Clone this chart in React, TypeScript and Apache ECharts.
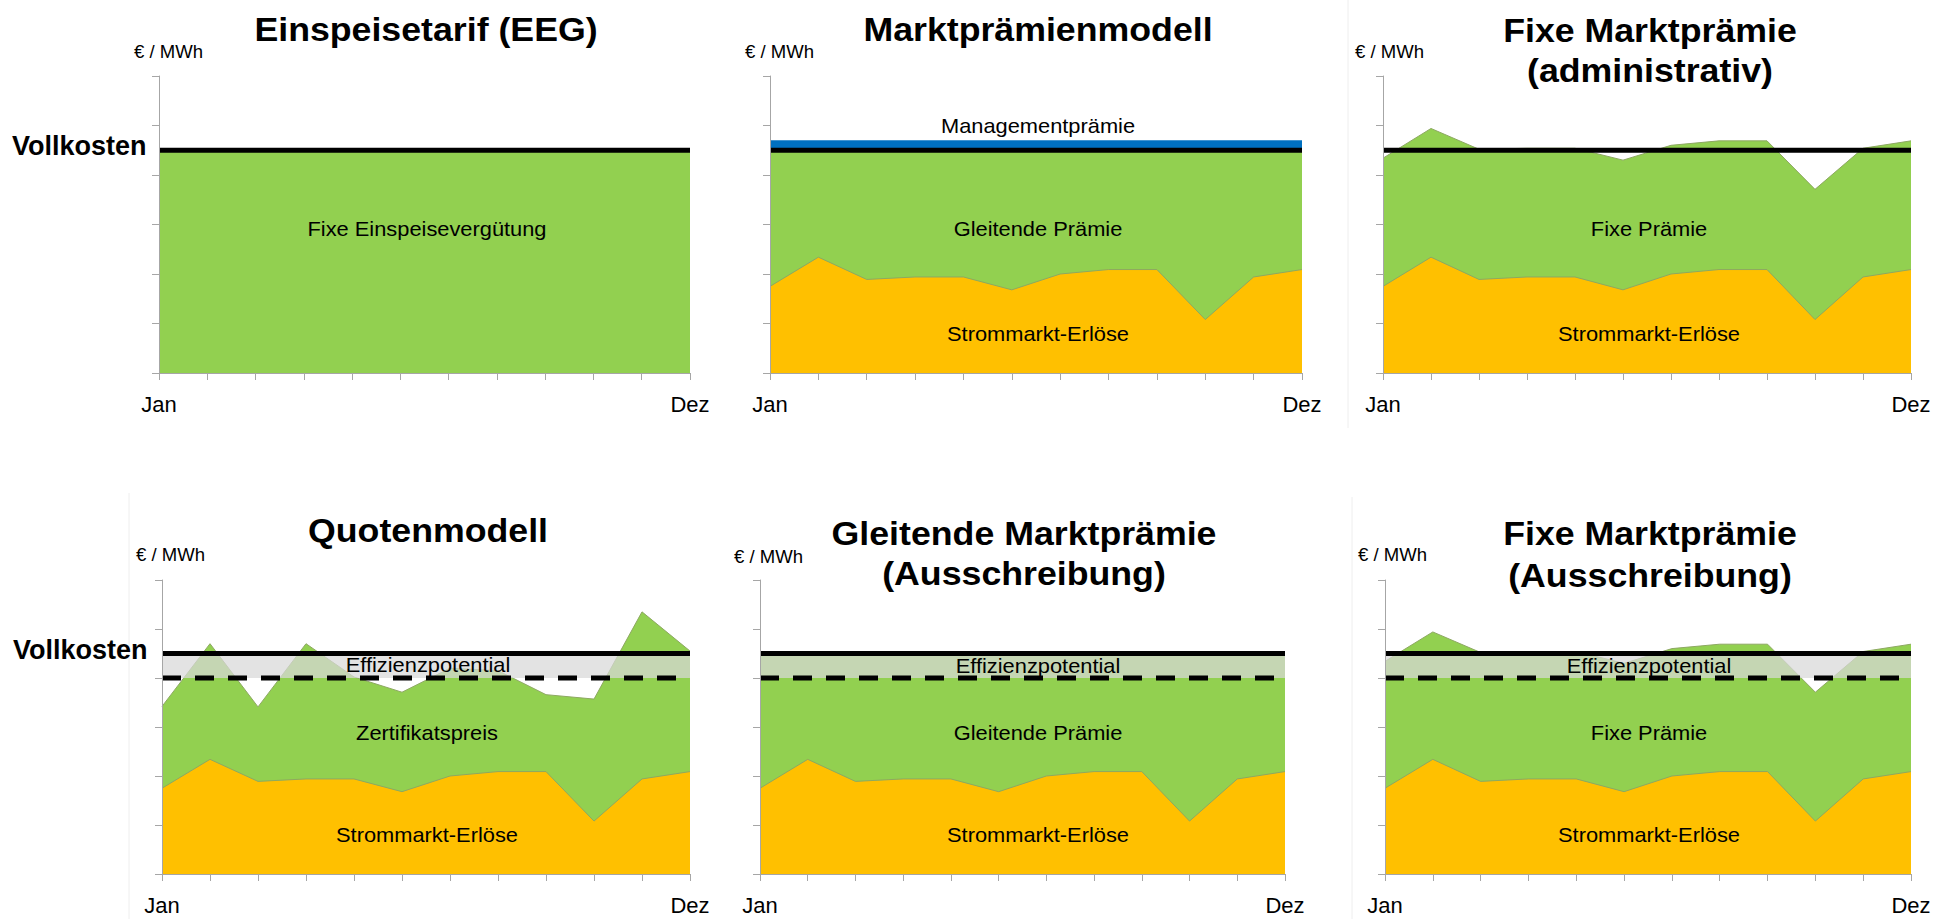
import React, { useEffect, useRef } from "react";
import * as echarts from "echarts";

const FONT = '"Liberation Sans", Arial, Helvetica, sans-serif';

// ---- data (units: arbitrary €/MWh scale 0..6) ----
const months = ["Jan", "Feb", "Mär", "Apr", "Mai", "Jun", "Jul", "Aug", "Sep", "Okt", "Nov", "Dez"];
const strommarktErloese = [1.75, 2.34, 1.89, 1.94, 1.94, 1.68, 2.0, 2.09, 2.09, 1.08, 1.94, 2.09];
const vollkosten = [4.5, 4.5, 4.5, 4.5, 4.5, 4.5, 4.5, 4.5, 4.5, 4.5, 4.5, 4.5];
const fixeEinspeiseverguetung = [4.5, 4.5, 4.5, 4.5, 4.5, 4.5, 4.5, 4.5, 4.5, 4.5, 4.5, 4.5];
const gleitendePraemieTop = [4.5, 4.5, 4.5, 4.5, 4.5, 4.5, 4.5, 4.5, 4.5, 4.5, 4.5, 4.5];
const managementPraemie = [0.2, 0.2, 0.2, 0.2, 0.2, 0.2, 0.2, 0.2, 0.2, 0.2, 0.2, 0.2];
const fixePraemieTop = [4.34, 4.94, 4.52, 4.54, 4.54, 4.3, 4.6, 4.69, 4.69, 3.71, 4.54, 4.69];
const zertifikatspreisTop = [3.42, 4.7, 3.41, 4.7, 4.02, 3.71, 4.2, 4.15, 3.66, 3.57, 5.35, 4.55];
const ausschreibungsNiveau = [4.0, 4.0, 4.0, 4.0, 4.0, 4.0, 4.0, 4.0, 4.0, 4.0, 4.0, 4.0];
const effizienzpotential = [0.5, 0.5, 0.5, 0.5, 0.5, 0.5, 0.5, 0.5, 0.5, 0.5, 0.5, 0.5];
const yTicks = { min: 0, max: 6, interval: 1 };

const GREEN = "#92D050";
const ORANGE = "#FFC000";
const BLUE = "#0070C0";
const BAND = "rgba(216,216,216,0.725)";
const AXIS = "#A6A6A6";

const grids = [
  { left: 159, top: 76, width: 531, height: 297 },
  { left: 770, top: 76, width: 532, height: 297 },
  { left: 1383, top: 76, width: 528, height: 297 },
  { left: 162, top: 580, width: 528, height: 294 },
  { left: 760, top: 580, width: 525, height: 294 },
  { left: 1385, top: 580, width: 526, height: 294 },
];

function area(g: number, data: number[], color: string, z: number, lineColor: string) {
  return {
    type: "line",
    xAxisIndex: g,
    yAxisIndex: g,
    data,
    symbol: "none",
    silent: true,
    z,
    lineStyle: { color: lineColor, width: 1 },
    areaStyle: { color, opacity: 1 },
  };
}

function line(g: number, data: number[], width: number, dash: any, z: number, stack?: string) {
  return {
    type: "line",
    xAxisIndex: g,
    yAxisIndex: g,
    data,
    symbol: "none",
    silent: true,
    z,
    stack,
    lineStyle: { color: "#000", width, type: dash, cap: "butt" },
  };
}

function stackedBand(g: number, data: number[], color: string, z: number, stack: string) {
  return {
    type: "line",
    xAxisIndex: g,
    yAxisIndex: g,
    data,
    stack,
    symbol: "none",
    silent: true,
    z,
    lineStyle: { width: 0, opacity: 0 },
    areaStyle: { color, opacity: 1 },
  };
}

function txt(text: string, x: number, y: number, size: number, opts: any = {}) {
  const align = opts.align || "center";
  return {
    type: "text",
    x,
    y,
    scaleX: opts.scaleX || 1,
    z: 100,
    silent: true,
    style: {
      text,
      fill: opts.color || "#000",
      font: `${opts.bold ? "bold " : ""}${size}px ${FONT}`,
      textAlign: align,
      align,
      textVerticalAlign: "middle",
      verticalAlign: "middle",
    },
  };
}

function vline(x: number, y1: number, y2: number) {
  return {
    type: "line",
    z: 0,
    silent: true,
    shape: { x1: x, y1, x2: x, y2 },
    style: { stroke: "#EEEEEE", lineWidth: 1 },
  };
}

export default function App() {
  const ref = useRef<HTMLDivElement>(null);

  useEffect(() => {
    document.body.style.margin = "0";
    if (!ref.current) return;
    const chart = echarts.init(ref.current, null, { renderer: "svg", width: 1950, height: 919 });

    const xAxis = grids.map((_, i) => ({
      gridIndex: i,
      type: "category",
      data: months,
      boundaryGap: false,
      axisLine: { show: true, lineStyle: { color: AXIS, width: 1 } },
      axisTick: { show: true, interval: 0, length: 7, lineStyle: { color: AXIS } },
      axisLabel: {
        interval: 0,
        margin: 20,
        fontSize: 22,
        color: "#000",
        fontFamily: FONT,
        formatter: (v: string, idx: number) => (idx === 0 || idx === months.length - 1 ? v : ""),
      },
      splitLine: { show: false },
      z: 10,
    }));

    const yAxis = grids.map((_, i) => ({
      gridIndex: i,
      type: "value",
      min: yTicks.min,
      max: yTicks.max,
      interval: yTicks.interval,
      axisLine: { show: true, lineStyle: { color: AXIS, width: 1 } },
      axisTick: { show: true, length: 7, lineStyle: { color: AXIS } },
      axisLabel: { show: false },
      splitLine: { show: false },
      z: 10,
    }));

    const edge = "#8DA862";
    const series: any[] = [
      // Panel 0: Einspeisetarif
      area(0, fixeEinspeiseverguetung, GREEN, 2, edge),
      line(0, vollkosten, 5, "solid", 6),
      // Panel 1: Marktprämienmodell
      area(1, gleitendePraemieTop, GREEN, 2, edge),
      area(1, strommarktErloese, ORANGE, 3, edge),
      line(1, vollkosten, 5, "solid", 6, "mgmt1"),
      stackedBand(1, managementPraemie, BLUE, 4, "mgmt1"),
      // Panel 2: Fixe Marktprämie (administrativ)
      area(2, fixePraemieTop, GREEN, 2, edge),
      area(2, strommarktErloese, ORANGE, 3, edge),
      line(2, vollkosten, 5, "solid", 6),
      // Panel 3: Quotenmodell
      area(3, zertifikatspreisTop, GREEN, 2, edge),
      area(3, strommarktErloese, ORANGE, 3, edge),
      line(3, ausschreibungsNiveau, 5, [19, 14], 6, "band3"),
      stackedBand(3, effizienzpotential, BAND, 4, "band3"),
      line(3, vollkosten, 5, "solid", 6),
      // Panel 4: Gleitende Marktprämie (Ausschreibung)
      area(4, gleitendePraemieTop, GREEN, 2, edge),
      area(4, strommarktErloese, ORANGE, 3, edge),
      line(4, ausschreibungsNiveau, 5, [19, 14], 6, "band4"),
      stackedBand(4, effizienzpotential, BAND, 4, "band4"),
      line(4, vollkosten, 5, "solid", 6),
      // Panel 5: Fixe Marktprämie (Ausschreibung)
      area(5, fixePraemieTop, GREEN, 2, edge),
      area(5, strommarktErloese, ORANGE, 3, edge),
      line(5, ausschreibungsNiveau, 5, [19, 14], 6, "band5"),
      stackedBand(5, effizienzpotential, BAND, 4, "band5"),
      line(5, vollkosten, 5, "solid", 6),
    ];

    const TS = 34;
    const TSX = 1.05;
    const LS = 21;
    const LSX = 1.04;
    const US = 18;
    const USX = 1.03;
    const graphic: any[] = [
      vline(1348, 0, 428),
      vline(129, 493, 919),
      vline(1352, 497, 919),
      // titles
      txt("Einspeisetarif (EEG)", 426, 29, TS, { bold: true, scaleX: TSX }),
      txt("Marktprämienmodell", 1038, 29, TS, { bold: true, scaleX: TSX }),
      txt("Fixe Marktprämie", 1650, 30, TS, { bold: true, scaleX: TSX }),
      txt("(administrativ)", 1650, 70, TS, { bold: true, scaleX: TSX }),
      txt("Quotenmodell", 428, 530, TS, { bold: true, scaleX: TSX }),
      txt("Gleitende Marktprämie", 1024, 533, TS, { bold: true, scaleX: TSX }),
      txt("(Ausschreibung)", 1024, 573, TS, { bold: true, scaleX: TSX }),
      txt("Fixe Marktprämie", 1650, 533, TS, { bold: true, scaleX: TSX }),
      txt("(Ausschreibung)", 1650, 575, TS, { bold: true, scaleX: TSX }),
      // units
      txt("€ / MWh", 134, 52, US, { align: "left", scaleX: USX }),
      txt("€ / MWh", 745, 52, US, { align: "left", scaleX: USX }),
      txt("€ / MWh", 1355, 52, US, { align: "left", scaleX: USX }),
      txt("€ / MWh", 136, 555, US, { align: "left", scaleX: USX }),
      txt("€ / MWh", 734, 557, US, { align: "left", scaleX: USX }),
      txt("€ / MWh", 1358, 555, US, { align: "left", scaleX: USX }),
      // Vollkosten
      txt("Vollkosten", 12, 146, 27, { align: "left", bold: true }),
      txt("Vollkosten", 13, 650, 27, { align: "left", bold: true }),
      // inner labels
      txt("Fixe Einspeisevergütung", 427, 229, LS, { scaleX: LSX }),
      txt("Managementprämie", 1038, 126, LS, { scaleX: LSX }),
      txt("Gleitende Prämie", 1038, 229, LS, { scaleX: LSX }),
      txt("Strommarkt-Erlöse", 1038, 334, LS, { scaleX: LSX }),
      txt("Fixe Prämie", 1649, 229, LS, { scaleX: LSX }),
      txt("Strommarkt-Erlöse", 1649, 334, LS, { scaleX: LSX }),
      txt("Effizienzpotential", 428, 665, LS, { scaleX: LSX }),
      txt("Zertifikatspreis", 427, 733, LS, { scaleX: LSX }),
      txt("Strommarkt-Erlöse", 427, 835, LS, { scaleX: LSX }),
      txt("Effizienzpotential", 1038, 666, LS, { scaleX: LSX }),
      txt("Gleitende Prämie", 1038, 733, LS, { scaleX: LSX }),
      txt("Strommarkt-Erlöse", 1038, 835, LS, { scaleX: LSX }),
      txt("Effizienzpotential", 1649, 666, LS, { scaleX: LSX }),
      txt("Fixe Prämie", 1649, 733, LS, { scaleX: LSX }),
      txt("Strommarkt-Erlöse", 1649, 835, LS, { scaleX: LSX }),
    ];

    chart.setOption({
      animation: false,
      backgroundColor: "#FFFFFF",
      textStyle: { fontFamily: FONT },
      grid: grids.map((g) => ({ ...g, containLabel: false })),
      xAxis,
      yAxis,
      series,
      graphic,
    });

    return () => chart.dispose();
  }, []);

  return <div ref={ref} style={{ width: 1950, height: 919 }} />;
}
